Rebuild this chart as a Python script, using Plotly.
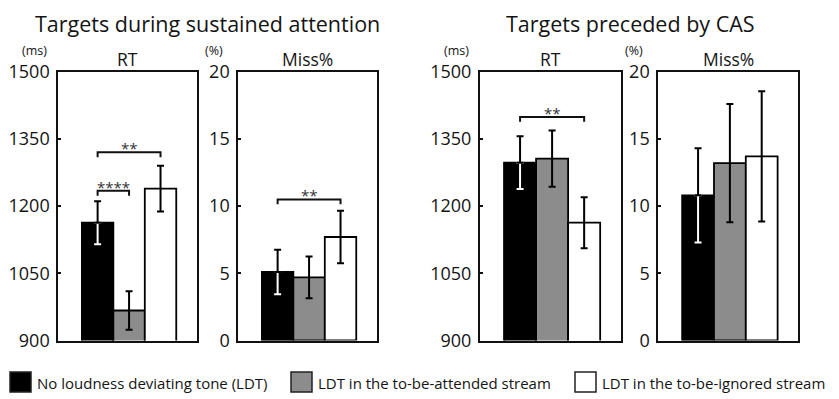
import plotly.graph_objects as go

# ---------------- data ----------------
conditions = ["No loudness deviating tone (LDT)",
              "LDT in the to-be-attended stream",
              "LDT in the to-be-ignored stream"]
bar_colors = ["#000000", "#8c8c8c", "#ffffff"]

rt_sustained = [1163, 967, 1239]
rt_sustained_err = [48, 43, 51]
miss_sustained = [5.1, 4.7, 7.7]
miss_sustained_err = [1.65, 1.55, 1.95]
rt_cas = [1297, 1306, 1163]
rt_cas_err = [59, 63, 57]
miss_cas = [10.8, 13.2, 13.7]
miss_cas_err = [3.5, 4.4, 4.85]

group_titles = ["Targets during sustained attention", "Targets preceded by CAS"]
panel_titles = ["RT", "Miss%", "RT", "Miss%"]
panel_units = ["(ms)", "(%)", "(ms)", "(%)"]
rt_ticks = [900, 1050, 1200, 1350, 1500]
miss_ticks = [0, 5, 10, 15, 20]

# significance brackets: (panel, bar a, bar b, level, label)
brackets = [(0, 0, 1, 1234, "****"),
            (0, 0, 2, 1320, "**"),
            (1, 0, 2, 10.5, "**"),
            (2, 0, 2, 1399, "**")]

# ---------------- layout constants ----------------
W, H = 839, 399
OFF = 8  # page body margin: the figure is drawn 8px right/down in the window
FONT = "Open Sans, Noto Sans, sans-serif"
TXT = "#141414"


def px(xp):
    return (xp - OFF) / W


def py(yp):
    return 1 - (yp - OFF) / H


panel_px = [(58.3, 196.7), (238.3, 376.7), (480.0, 621.0), (658.3, 798.3)]
ytop_px, ybot_px = 71.7, 340.5
ydom = [py(ybot_px), py(ytop_px)]

panels = [
    (rt_sustained, rt_sustained_err, rt_ticks),
    (miss_sustained, miss_sustained_err, miss_ticks),
    (rt_cas, rt_cas_err, rt_ticks),
    (miss_cas, miss_cas_err, miss_ticks),
]

fig = go.Figure()
layout = {}
annotations = []
shapes = []

for k, (vals, errs, ticks) in enumerate(panels):
    xa = "x" if k == 0 else f"x{k+1}"
    ya = "y" if k == 0 else f"y{k+1}"
    xkey = "xaxis" if k == 0 else f"xaxis{k+1}"
    ykey = "yaxis" if k == 0 else f"yaxis{k+1}"
    x0, x1 = panel_px[k]
    layout[xkey] = dict(domain=[px(x0), px(x1)], range=[-1.25, 3.15], anchor=ya,
                        showline=True, mirror=True, linecolor="#111", linewidth=2,
                        showticklabels=False, ticks="", showgrid=False, zeroline=False,
                        fixedrange=True, automargin=False)
    layout[ykey] = dict(domain=ydom, range=[ticks[0], ticks[-1]], anchor=xa,
                        showline=True, mirror=True, linecolor="#111", linewidth=2,
                        tickvals=ticks, ticktext=[str(t) for t in ticks],
                        ticks="inside", ticklen=3, tickwidth=1.5, tickcolor="#111",
                        tickfont=dict(family=FONT, size=18, color=TXT),
                        showgrid=False, zeroline=False, fixedrange=True,
                        ticklabelstandoff=3, automargin=False)
    for i in range(3):
        fig.add_trace(go.Bar(x=[i], y=[vals[i]], width=1, xaxis=xa, yaxis=ya,
                             marker=dict(color=bar_colors[i], line=dict(color="#000", width=1.8)),
                             showlegend=False, hoverinfo="skip"))
    for i in range(3):
        if i == 0:
            # lower half in white inside the black bar, upper half in black
            fig.add_trace(go.Scatter(x=[i], y=[vals[i]], mode="markers", xaxis=xa, yaxis=ya,
                                     marker=dict(size=1, color="rgba(0,0,0,0)"),
                                     error_y=dict(type="data", symmetric=False, array=[0],
                                                  arrayminus=[errs[i]], color="#ffffff",
                                                  thickness=2, width=3.5),
                                     showlegend=False, hoverinfo="skip"))
            fig.add_trace(go.Scatter(x=[i], y=[vals[i]], mode="markers", xaxis=xa, yaxis=ya,
                                     marker=dict(size=1, color="rgba(0,0,0,0)"),
                                     error_y=dict(type="data", symmetric=False, array=[errs[i]],
                                                  arrayminus=[0], color="#000000",
                                                  thickness=2, width=3.5),
                                     showlegend=False, hoverinfo="skip"))
        else:
            fig.add_trace(go.Scatter(x=[i], y=[vals[i]], mode="markers", xaxis=xa, yaxis=ya,
                                     marker=dict(size=1, color="rgba(0,0,0,0)"),
                                     error_y=dict(type="data", array=[errs[i]], color="#000000",
                                                  thickness=2, width=3.5),
                                     showlegend=False, hoverinfo="skip"))
    annotations.append(dict(text=panel_titles[k], x=px((x0 + x1) / 2), y=py(59),
                            xref="paper", yref="paper", showarrow=False,
                            xanchor="center", yanchor="middle",
                            font=dict(family=FONT, size=17.5, color=TXT)))
    annotations.append(dict(text=panel_units[k], x=px(x0 - 24), y=py(50),
                            xref="paper", yref="paper", showarrow=False,
                            xanchor="center", yanchor="middle",
                            font=dict(family=FONT, size=12.5, color=TXT)))

for (k, a, b, level, label) in brackets:
    xa = "x" if k == 0 else f"x{k+1}"
    ya = "y" if k == 0 else f"y{k+1}"
    ticks = panels[k][2]
    drop = (ticks[-1] - ticks[0]) * 0.018
    fig.add_trace(go.Scatter(x=[a, a, b, b], y=[level - drop, level, level, level - drop],
                             mode="lines", line=dict(color="#111", width=2),
                             xaxis=xa, yaxis=ya, showlegend=False, hoverinfo="skip"))
    annotations.append(dict(text=label, x=(a + b) / 2, y=level, xref=xa, yref=ya,
                            showarrow=False, xanchor="center", yanchor="middle", yshift=4,
                            font=dict(family=FONT, size=15, color="#333")))

annotations.append(dict(text=group_titles[0], x=px(207.5), y=py(23.5), xref="paper", yref="paper",
                        showarrow=False, xanchor="center", yanchor="middle",
                        font=dict(family=FONT, size=21.5, color=TXT)))
annotations.append(dict(text=group_titles[1], x=px(630.5), y=py(23.5), xref="paper", yref="paper",
                        showarrow=False, xanchor="center", yanchor="middle",
                        font=dict(family=FONT, size=21.5, color=TXT)))

legend_x = [10, 291, 575]
for i, name in enumerate(conditions):
    sx = legend_x[i]
    shapes.append(dict(type="rect", xref="paper", yref="paper",
                       x0=px(sx), x1=px(sx + 21), y0=py(392), y1=py(372),
                       fillcolor=bar_colors[i], line=dict(color="#222", width=1.5)))
    annotations.append(dict(text=name, x=px(sx + 25), y=py(382.5), xref="paper", yref="paper",
                            showarrow=False, xanchor="left", yanchor="middle",
                            font=dict(family=FONT, size=15, color=TXT)))

fig.update_layout(width=W, height=H, margin=dict(l=0, r=0, t=0, b=0, autoexpand=False),
                  paper_bgcolor="white", plot_bgcolor="white",
                  annotations=annotations, shapes=shapes, barmode="overlay",
                  showlegend=False, **layout)

fig.write_html("out.html")
